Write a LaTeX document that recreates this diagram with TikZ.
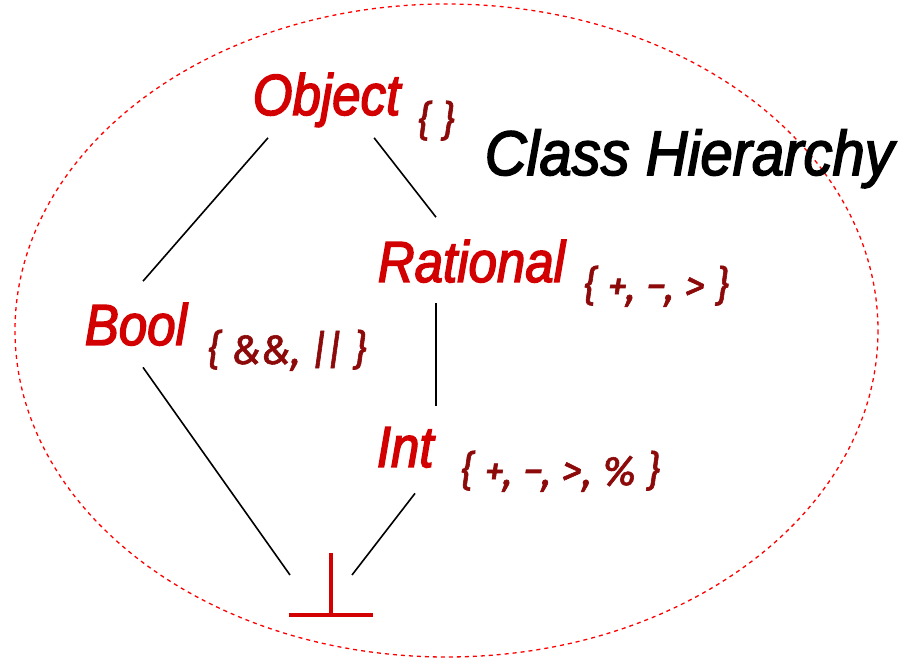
\documentclass[tikz,border=0pt]{standalone}
\usepackage{fontspec}
\usepackage{tikz}
\newfontfamily\clsfont{Liberation Sans}[FakeStretch=0.88,FakeBold=2.5]
\newfontfamily\hierfont{Liberation Sans}[FakeStretch=0.92,FakeBold=2.5]
\newfontfamily\opsfont{Fira Sans}[FakeBold=1.5]
\definecolor{lblred}{RGB}{210,0,0}
\definecolor{opsred}{RGB}{140,10,10}

\begin{document}
\begin{tikzpicture}[x=1pt,y=-1pt,line width=1.6pt,
  cls/.style={inner sep=0pt,anchor=base west,text=lblred,font=\clsfont\itshape\fontsize{58}{58}\selectfont},
  ops/.style={inner sep=0pt,anchor=base west,text=opsred,font=\opsfont\itshape\fontsize{41}{41}\selectfont},
  hier/.style={inner sep=0pt,anchor=base west,font=\hierfont\itshape\fontsize{63}{63}\selectfont}]
\useasboundingbox (0,0) rectangle (903,660);
\draw[red,dash pattern=on 4pt off 4pt,line width=1.3pt] (446.5,330.5) ellipse [x radius=431.5,y radius=326.5];
\node[cls] (obj) at (252,115) {Object};
\node[ops] (objops) at (417,135) {\{ \}};
\node[hier] (title) at (484,175) {Class Hierarchy};
\node[cls] (rat) at (377,282) {Rational};
\node[ops] (ratops) at (583,300) {\{ +, −, > \}};
\node[cls] (bool) at (84,345) {Bool};
\node[ops] (boolops) at (207,364) {\{ \&\&, |\kern-1pt| \}};
\node[cls] (int) at (376,467) {Int};
\node[ops] (intops) at (460,485) {\{ +, −, >, \% \}};
\coordinate (bot) at (331,615);
\draw[lblred,line width=4pt] (bot) -- ++(0,-62) ([xshift=-42]bot) -- ([xshift=42]bot);
\draw ([shift={(16,10)}]obj.south west) -- ([shift={(59,-21)}]bool.north west);
\draw ([shift={(-27,10)}]obj.south east) -- ([shift={(59,-22)}]rat.north west);
\draw ([shift={(59,20)}]rat.south west) -- ([shift={(60,-20)}]int.north west);
\draw ([shift={(59,21)}]bool.south west) -- ([shift={(-41,-40)}]bot);
\draw ([shift={(39,25)}]int.south west) -- ([shift={(21,-40)}]bot);
\end{tikzpicture}
\end{document}
